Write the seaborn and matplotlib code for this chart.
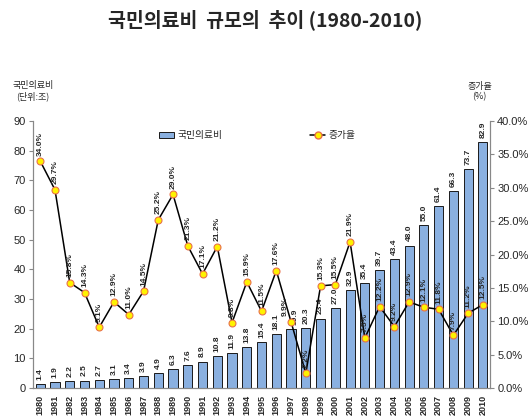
import numpy as np
import pandas as pd
import seaborn as sns
import matplotlib.pyplot as plt
from matplotlib.lines import Line2D
from matplotlib.patches import Patch

years = list(range(1980, 2011))
spending = [1.4, 1.9, 2.2, 2.5, 2.7, 3.1, 3.4, 3.9, 4.9, 6.3,
            7.6, 8.9, 10.8, 11.9, 13.8, 15.4, 18.1, 19.9, 20.3, 23.4,
            27.0, 32.9, 35.4, 39.7, 43.4, 48.0, 55.0, 61.4, 66.3, 73.7, 82.9]
growth = [34.0, 29.7, 15.8, 14.3, 9.1, 12.9, 11.0, 14.5, 25.2, 29.0,
          21.3, 17.1, 21.2, 9.8, 15.9, 11.5, 17.6, 9.9, 2.2, 15.3,
          15.5, 21.9, 7.5, 12.2, 9.2, 12.9, 12.1, 11.8, 7.9, 11.2, 12.5]

df = pd.DataFrame({"year": [str(y) for y in years], "spending": spending, "growth": growth})
df["pos"] = np.arange(len(df))

sns.set_style("white")
plt.rcParams['font.family'] = ['Liberation Sans', 'Noto Sans CJK KR', 'DejaVu Sans']

fig = plt.figure(figsize=(5.3, 4.19), dpi=100)
ax = fig.add_axes([0.062, 0.074, 0.863, 0.637])

bar_color = "#8AB0E0"
sns.barplot(data=df, x="year", y="spending", color=bar_color, width=0.62,
            edgecolor="#1a1a1a", linewidth=0.7, saturation=1, ax=ax)
ax.set_ylim(0, 90)
ax.set_xlim(-0.5, len(df) - 0.5)
ax.set_yticks(range(0, 91, 10))
ax.set_xlabel("")
ax.set_ylabel("")
ax.tick_params(axis="x", labelrotation=90, labelsize=6.5, length=3, pad=2)
ax.tick_params(axis="y", labelsize=8, length=3, pad=2)
for lbl in ax.get_xticklabels():
    lbl.set_fontweight("bold")

for i, v in enumerate(spending):
    dx = 3 if years[i] == 1997 else 0
    ax.annotate(f"{v:.1f}", (i, v), xytext=(dx, 3), textcoords="offset points",
                rotation=90, ha="center", va="bottom", fontsize=6, fontweight="bold")

ax2 = ax.twinx()
sns.lineplot(data=df, x="pos", y="growth", color="black", linewidth=1.1,
             marker="o", markersize=5, markerfacecolor="#FFF200",
             markeredgecolor="#E8704A", markeredgewidth=0.8, ax=ax2)
ax2.set_ylim(0, 40)
ax2.set_yticks(np.arange(0, 41, 5))
ax2.set_yticklabels([f"{t:.1f}%" for t in np.arange(0, 41, 5)])
ax2.set_xlim(-0.5, len(df) - 0.5)
ax2.set_xlabel("")
ax2.set_ylabel("")
ax2.tick_params(axis="y", labelsize=8, length=3, pad=2)

for i, g in enumerate(growth):
    dx = -4 if years[i] == 1997 else 0
    ax2.annotate(f"{g:.1f}%", (i, g), xytext=(dx, 4), textcoords="offset points",
                 rotation=90, ha="center", va="bottom", fontsize=6, fontweight="bold")

for a in (ax, ax2):
    a.spines["top"].set_visible(False)
    for s in ("left", "right", "bottom"):
        a.spines[s].set_color("#888888")
        a.spines[s].set_linewidth(0.8)
ax.tick_params(axis="both", color="#888888")
ax2.tick_params(axis="both", color="#888888")

fig.text(0.5, 0.952, "국민의료비  규모의  추이 (1980-2010)", ha="center", va="center",
         fontsize=14, fontweight="bold", family=['Noto Sans CJK KR', 'DejaVu Sans'])
fig.text(0.062, 0.782, "국민의료비\n(단위:조)", ha="center", va="center", fontsize=6.5,
         linespacing=1.2, family=['Noto Sans CJK KR', 'DejaVu Sans'])
fig.text(0.905, 0.782, "증가율\n(%)", ha="center", va="center", fontsize=6.5,
         linespacing=1.2, family=['Noto Sans CJK KR', 'DejaVu Sans'])

handles = [Patch(facecolor=bar_color, edgecolor="#1a1a1a", linewidth=0.7),
           Line2D([0], [0], color="black", linewidth=1.1, marker="o", markersize=5,
                  markerfacecolor="#FFF200", markeredgecolor="#E8704A")]
fig.legend(handles, ["국민의료비", "증가율"], loc="center", ncol=2,
           bbox_to_anchor=(0.485, 0.677), frameon=False, fontsize=7,
           columnspacing=9, handlelength=1.6, handletextpad=0.3,
           prop={"family": ['Noto Sans CJK KR', 'DejaVu Sans'], "size": 7})

fig.savefig("out.png", dpi=100)
